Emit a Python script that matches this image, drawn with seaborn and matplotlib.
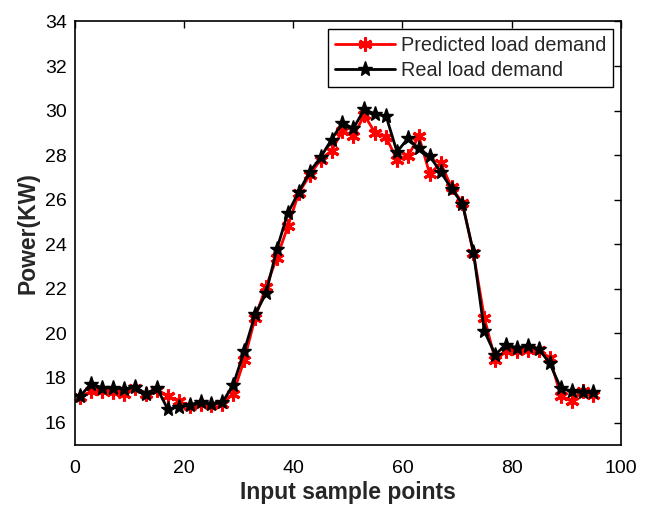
import numpy as np
import pandas as pd
import matplotlib
matplotlib.use("Agg")
import matplotlib.pyplot as plt
import seaborn as sns

sample_points = list(range(1, 96, 2))
real_load = [17.2, 17.75, 17.55, 17.55, 17.5, 17.6, 17.3, 17.55, 16.6, 16.7,
             16.8, 16.9, 16.85, 16.9, 17.7, 19.2, 20.85, 21.8, 23.8, 25.4,
             26.35, 27.25, 27.9, 28.7, 29.45, 29.2, 30.05, 29.85, 29.75, 28.15,
             28.75, 28.3, 27.95, 27.25, 26.5, 25.8, 23.65, 20.1, 19.05, 19.5,
             19.35, 19.45, 19.3, 18.65, 17.55, 17.4, 17.35, 17.35]
predicted_load = [17.15, 17.4, 17.4, 17.35, 17.3, 17.55, 17.3, 17.45, 17.2, 16.95,
                  16.75, 16.85, 16.8, 16.85, 17.3, 18.8, 20.7, 22.1, 23.4, 24.8,
                  26.3, 27.1, 27.8, 28.2, 29.1, 28.85, 29.8, 29.0, 28.8, 27.8,
                  27.95, 28.85, 27.15, 27.65, 26.55, 25.85, 23.6, 20.7, 18.8, 19.2,
                  19.2, 19.25, 19.25, 18.9, 17.2, 16.95, 17.4, 17.25]
x_ticks = [0, 20, 40, 60, 80, 100]
y_ticks = [16, 18, 20, 22, 24, 26, 28, 30, 32, 34]

sns.set_style("white")
plt.rcParams['font.family'] = ['Liberation Sans', 'DejaVu Sans']

fig = plt.figure(figsize=(6.48, 5.07), dpi=100)
ax = fig.add_axes([0.1157, 0.1227, 0.8423, 0.8349])

sns.lineplot(x=sample_points, y=predicted_load, ax=ax, color='#ff0000',
             linewidth=2, marker=(6, 2, 0), markersize=10, markeredgewidth=2.2,
             markeredgecolor='#ff0000', label='Predicted load demand')
sns.lineplot(x=sample_points, y=real_load, ax=ax, color='black',
             linewidth=2, marker='*', markersize=11, markeredgewidth=1,
             markeredgecolor='black', markerfacecolor='black',
             label='Real load demand')

ax.set_xlim(0, 100)
ax.set_ylim(15, 34)
ax.set_xticks(x_ticks)
ax.set_yticks(y_ticks)
ax.tick_params(direction='in', length=5, width=1, top=True, right=True,
               labelsize=14, colors='black')
ax.tick_params(axis='x', pad=11)
ax.tick_params(axis='y', pad=6)
for s in ax.spines.values():
    s.set_color('black')
    s.set_linewidth(1.2)
ax.set_xlabel('Input sample points', fontsize=16.5, fontweight='bold', labelpad=3)
ax.set_ylabel('Power(KW)', fontsize=16.5, fontweight='bold', labelpad=4)

leg = ax.legend(loc='upper right', fontsize=14.3, frameon=True, fancybox=False,
                edgecolor='black', framealpha=1, handlelength=3.0,
                borderaxespad=0.4, borderpad=0.35, labelspacing=0.3,
                handletextpad=0.3)
leg.get_frame().set_linewidth(1)

fig.savefig('out.png', dpi=100)
